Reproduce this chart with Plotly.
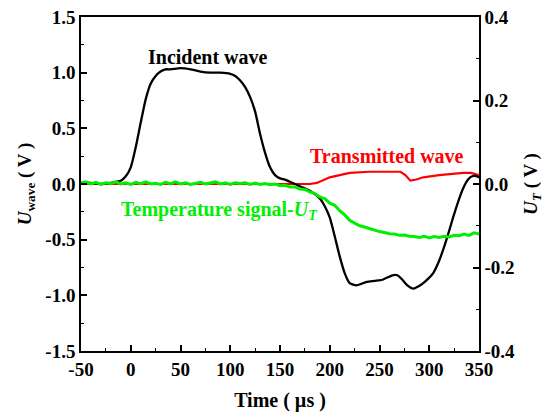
import plotly.graph_objects as go

# Incident wave (left axis, V)
t_inc = [-50, -40, -30, -20, -15, -10, -5, 0, 5, 10, 15, 20, 25, 30, 35, 40, 50, 60, 70, 80, 90, 100,
         105, 110, 115, 120, 125, 130, 135, 140, 145, 150, 155, 160, 170, 180, 190, 195, 200, 205, 210,
         215, 220, 227, 237, 245, 253, 263, 268, 273, 278, 284, 289, 294, 299, 304, 309, 314, 319, 324,
         329, 334, 339, 343, 347, 350]
u_inc = [0.01, 0.01, 0.00, 0.01, 0.02, 0.03, 0.07, 0.15, 0.33, 0.55, 0.76, 0.90, 0.97, 1.01, 1.03, 1.03,
         1.04, 1.03, 1.01, 1.00, 1.00, 0.99, 0.97, 0.93, 0.87, 0.78, 0.65, 0.45, 0.28, 0.15, 0.08, 0.05,
         0.04, 0.02, -0.02, -0.06, -0.13, -0.20, -0.30, -0.47, -0.65, -0.80, -0.89, -0.91, -0.88, -0.87,
         -0.86, -0.82, -0.82, -0.86, -0.91, -0.94, -0.92, -0.89, -0.85, -0.80, -0.71, -0.59, -0.45, -0.30,
         -0.16, -0.04, 0.04, 0.07, 0.07, 0.06]

# Transmitted wave (left axis, V)
t_tra = [-50, 0, 50, 100, 150, 170, 180, 187, 193, 200, 210, 220, 240, 260, 271, 276, 281, 287, 294,
         310, 321, 334, 342, 350]
u_tra = [0.0, 0.0, 0.0, 0.0, 0.0, 0.0, 0.0, 0.01, 0.03, 0.06, 0.08, 0.10, 0.11, 0.11, 0.11, 0.08, 0.03,
         0.04, 0.06, 0.08, 0.09, 0.10, 0.10, 0.08]

# Temperature signal U_T (right axis, V)
t_tem = list(range(-50, 351, 5))
u_tem = [0.002, 0.005, 0.000, 0.004, -0.001, 0.003, 0.001, 0.005, 0.000, 0.003, -0.001, 0.004, 0.001,
         0.005, 0.000, 0.002, -0.001, 0.004, 0.001, 0.005, 0.000, 0.003, -0.001, 0.002, 0.004, 0.000,
         0.002, 0.005, 0.000, 0.003, -0.001, 0.003, 0.001, 0.003, -0.001, 0.002, -0.001, 0.001, -0.002,
         0.000, -0.004, -0.003, -0.007, -0.007, -0.012, -0.013, -0.019, -0.023, -0.031, -0.035, -0.046,
         -0.051, -0.064, -0.074, -0.087, -0.093, -0.100, -0.103, -0.107, -0.110, -0.114, -0.116, -0.119,
         -0.120, -0.123, -0.122, -0.125, -0.126, -0.128, -0.125, -0.129, -0.126, -0.128, -0.125, -0.127,
         -0.123, -0.124, -0.120, -0.123, -0.117, -0.120]

x_ticks = [-50, 0, 50, 100, 150, 200, 250, 300, 350]
x_labels = ["-50", "0", "50", "100", "150", "200", "250", "300", "350"]
y1_ticks = [-1.5, -1.0, -0.5, 0.0, 0.5, 1.0, 1.5]
y1_labels = ["-1.5", "-1.0", "-0.5", "0.0", "0.5", "1.0", "1.5"]
y2_ticks = [-0.4, -0.2, 0.0, 0.2, 0.4]
y2_labels = ["-0.4", "-0.2", "0.0", "0.2", "0.4"]

FONT = "Liberation Serif"
fig = go.Figure()
fig.add_trace(go.Scatter(x=t_tra, y=u_tra, mode="lines", line=dict(color="#ff0000", width=2.2), yaxis="y"))
fig.add_trace(go.Scatter(x=t_inc, y=u_inc, mode="lines", line=dict(color="#000000", width=2.3, shape="spline", smoothing=0.6), yaxis="y"))
fig.add_trace(go.Scatter(x=t_tem, y=u_tem, mode="lines", line=dict(color="#00ee00", width=3), yaxis="y2"))

axis_common = dict(showline=True, linecolor="black", linewidth=1.5, ticks="inside", ticklen=6,
                   tickwidth=1.5, tickcolor="black", showgrid=False, zeroline=False, automargin=False,
                   tickfont=dict(family=FONT, size=19, color="black", weight="bold"))

fig.update_layout(
    width=547, height=412, margin=dict(l=81, r=68, t=17, b=61),
    paper_bgcolor="white", plot_bgcolor="white", showlegend=False,
    font=dict(family=FONT, color="black"),
    xaxis=dict(range=[-50, 350], tickvals=x_ticks, ticktext=x_labels, mirror=True,
               minor=dict(dtick=25, tick0=-50, ticks="inside", ticklen=3, tickwidth=1.2, tickcolor="black"),
               title=dict(text="<b>Time ( µs )</b>", font=dict(family=FONT, size=20), standoff=17),
               **axis_common),
    yaxis=dict(range=[-1.5, 1.5], tickvals=y1_ticks, ticktext=y1_labels, mirror=True,
               minor=dict(dtick=0.25, tick0=-1.5, ticks="inside", ticklen=3, tickwidth=1.2, tickcolor="black"),
               title=dict(text="<b><i>U</i><sub>wave</sub> ( V )</b>", font=dict(family=FONT, size=19), standoff=9),
               **axis_common),
    yaxis2=dict(range=[-0.4, 0.4], tickvals=y2_ticks, ticktext=y2_labels, overlaying="y", side="right",
                minor=dict(dtick=0.1, tick0=-0.4, ticks="inside", ticklen=3, tickwidth=1.2, tickcolor="black"),
                title=dict(text="<b><i>U<sub>T</sub></i> ( V )</b>", font=dict(family=FONT, size=19), standoff=10),
                **axis_common),
)

fig.add_annotation(x=78, y=1.14, xref="x", yref="y", text="<b>Incident wave</b>", showarrow=False,
                   font=dict(family=FONT, size=20, color="black"))
fig.add_annotation(x=258, y=0.25, xref="x", yref="y", text="<b>Transmitted wave</b>", showarrow=False,
                   font=dict(family=FONT, size=20, color="#ff0000"))
fig.add_annotation(x=89, y=-0.24, xref="x", yref="y", text="<b>Temperature signal-<i>U<sub>T</sub></i></b>",
                   showarrow=False, font=dict(family=FONT, size=20, color="#00ee00"))

fig.write_html("out.html")
